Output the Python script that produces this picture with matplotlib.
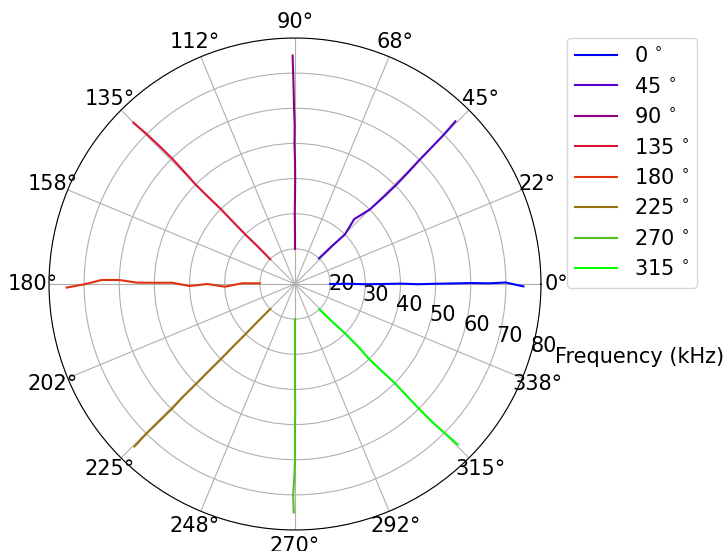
import numpy as np
import matplotlib
matplotlib.use("Agg")
import matplotlib.pyplot as plt

# frequency samples (kHz) used as radius
freq = [20, 25, 30, 35, 40, 45, 50, 55, 60, 65, 70, 75]

# measured direction (deg) for each nominal source angle
ang_0 = [0.0, 0.3, -0.2, 0.0, 0.2, -0.1, 0.1, 0.2, 0.3, 0.2, 0.4, -0.6]
ang_45 = [46.9, 45.8, 44.8, 47.6, 44.9, 44.5, 44.4, 44.6, 44.9, 45.0, 45.1, 45.4]
ang_90 = [90.0, 90.0, 90.2, 90.0, 89.9, 90.0, 90.2, 90.1, 90.3, 90.4, 90.5, 90.6]
ang_135 = [135.0, 134.8, 135.1, 134.9, 134.7, 134.9, 135.0, 134.6, 134.4, 134.5, 134.7, 135.05]
ang_180 = [178.9, 179.2, 182.2, 180.0, 181.1, 179.4, 179.5, 179.5, 178.7, 178.8, 180.1, 180.9]
ang_225 = [225.3, 225.2, 225.4, 225.3, 225.4, 225.3, 225.3, 225.2, 225.4, 225.3, 225.2, 225.35]
ang_270 = [270.0, 270.0, 270.0, 270.0, 270.0, 270.1, 270.0, 270.0, 270.0, 269.8, 269.5, 269.7]
ang_315 = [313.8, 314.6, 315.4, 315.3, 314.6, 314.9, 315.2, 315.0, 314.8, 314.8, 315.1, 315.4]

labels = ['0', '45', '90', '135', '180', '225', '270', '315']
colors = ['#0000ff', '#5000c8', '#8c0080', '#dc1437', '#e0320f', '#9b7212', '#52c020', '#00ff00']
series = [ang_0, ang_45, ang_90, ang_135, ang_180, ang_225, ang_270, ang_315]

plt.rcParams['font.size'] = 15

fig = plt.figure(figsize=(7.24, 5.51), dpi=100)
ax = fig.add_axes([49/724, 21/551, 492/724, 492/551], projection='polar')

for ang, lab, col in zip(series, labels, colors):
    ax.plot(np.deg2rad(ang), freq, color=col, lw=1.5, label=lab + r'$\,^\circ$')

ax.set_rlim(10, 80)
ax.set_rticks([20, 30, 40, 50, 60, 70, 80])
ax.set_thetagrids(np.arange(0, 360, 22.5))
ax.set_rlabel_position(-17)
ax.tick_params(axis='x', pad=1)
ax.grid(color='#b0b0b0', lw=0.8)

fig.text(555/724, 1 - 357/551, 'Frequency (kHz)', ha='left', va='center', fontsize=15)

ax.legend(loc='upper left', bbox_to_anchor=(1.053, 1.0), borderaxespad=0)

fig.savefig('out.png', dpi=100)
